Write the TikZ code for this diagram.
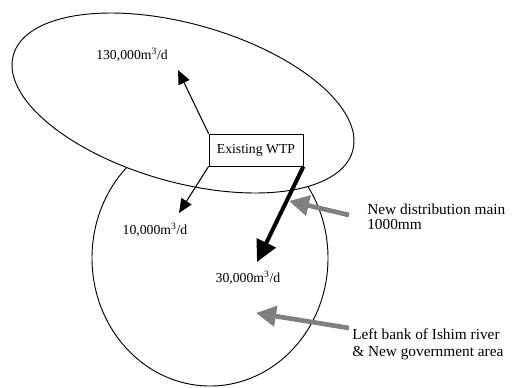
\documentclass[tikz,border=0pt]{standalone}
\usepackage{fontspec}
\setmainfont{Liberation Serif}
\usepackage{tikz}
\usetikzlibrary{arrows.meta,positioning}

\begin{document}
\begin{tikzpicture}[x=0.75pt, y=-0.75pt,
    area/.style={draw, line width=0.7pt},
    plant/.style={rectangle, draw, fill=white, line width=0.6pt, minimum width=70.5pt, minimum height=24pt, inner sep=0pt, font=\fontsize{10.3}{12}\selectfont},
    flow/.style={font=\fontsize{10.3}{12}\selectfont, inner sep=0pt},
    note/.style={align=left, anchor=west, inner sep=0pt},
    supply/.style={-{Triangle[length=10.5pt, width=9pt]}, line width=0.8pt},
    mainpipe/.style={-{Triangle[length=16pt, width=15.5pt]}, line width=3pt},
    pointer/.style={-{Triangle[length=15pt, width=15pt]}, line width=3.5pt, draw=gray, gray}
]
    \useasboundingbox (0,0) rectangle (514,387);

    \draw[area] (210,258) ellipse [x radius=118, y radius=128];
    \draw[area, fill=white, rotate around={-15.8:(183,103)}] (183,103) ellipse [x radius=176.3, y radius=79.1];

    \node[plant] (wtp) at (256,150) {Existing WTP};

    \node[flow] (north) at (132,55) {130,000m\textsuperscript{3}/d};
    \node[flow] (west) at (155,230) {10,000m\textsuperscript{3}/d};
    \node[flow] (south) at (248,278) {30,000m\textsuperscript{3}/d};

    \node[note, font=\fontsize{11.5}{11.3}\selectfont] (pipe) at (367,216.5) {New distribution main\\1000mm};
    \node[note, font=\fontsize{11.5}{12.8}\selectfont] (bank) at (352,344.5) {Left bank of Ishim river\\\& New government area};

    \coordinate (northtip) at (178,70);
    \coordinate (westtip) at (179,213);
    \coordinate (southtip) at (257,262);
    \coordinate (pipetail) at (349,215);
    \coordinate (pipetip) at (289,201);
    \coordinate (banktail) at (349,328);
    \coordinate (banktip) at (256,313);

    \draw[supply] (wtp.north west) -- (northtip);
    \draw[supply] (wtp.south west) -- (westtip);
    \draw[mainpipe] (wtp.south east) -- (southtip);
    \draw[pointer] (pipetail) -- (pipetip);
    \draw[pointer] (banktail) -- (banktip);
\end{tikzpicture}
\end{document}
